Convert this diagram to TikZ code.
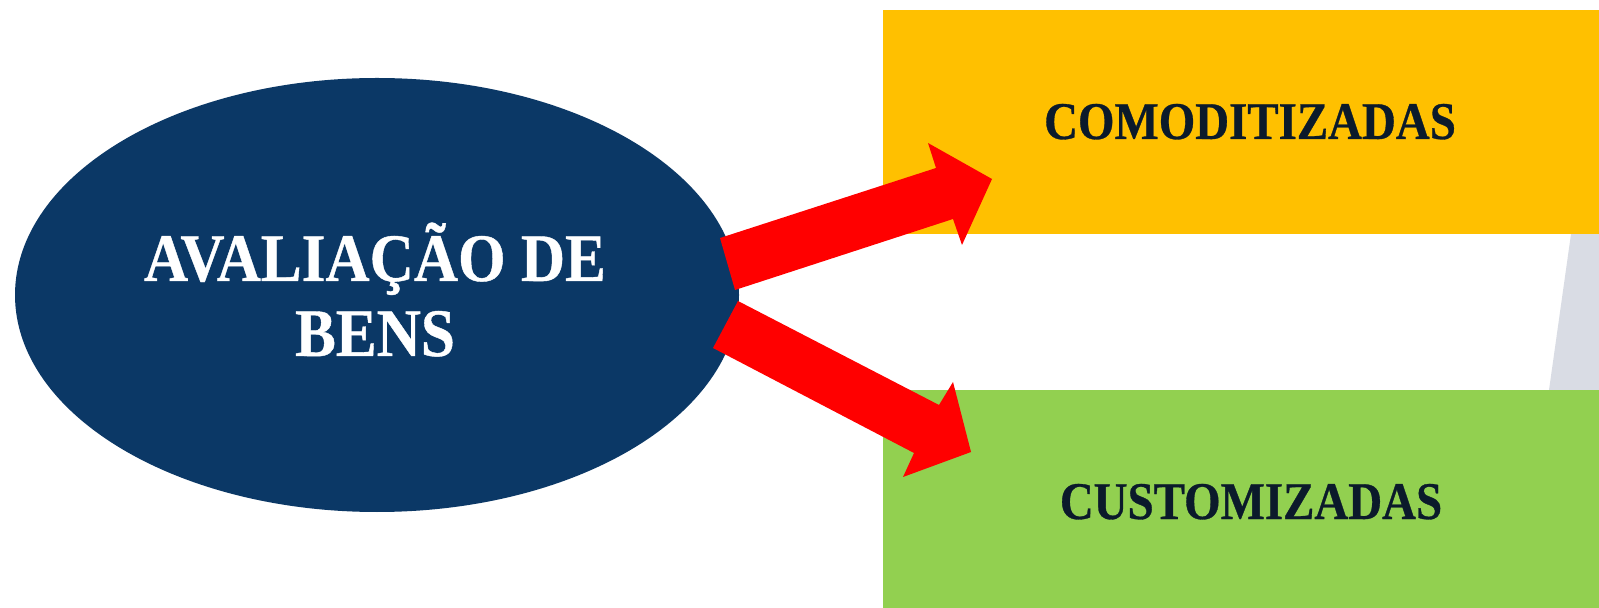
\documentclass[tikz,border=0pt]{standalone}
\usepackage{fontspec}
\newfontfamily\ellfont{Liberation Serif Bold}[FakeStretch=0.9, FakeBold=0.6]
\newfontfamily\boxfont{Liberation Serif Bold}[FakeStretch=0.885, FakeBold=0.6]
\usetikzlibrary{shapes.geometric}
\definecolor{navy}{HTML}{0B3866}
\definecolor{gold}{HTML}{FFC000}
\definecolor{leaf}{HTML}{92D050}
\definecolor{ink}{HTML}{0B1A2B}
\definecolor{paleshade}{HTML}{D9DCE4}
\tikzset{
  bigarrow/.style={fill=red, draw=none},
  boxlabel/.style={font=\boxfont\fontsize{26.5pt}{32pt}\selectfont, text=ink, anchor=base, inner sep=0pt},
}
\begin{document}
\begin{tikzpicture}[x=0.5pt,y=-0.5pt]
\useasboundingbox (0,0) rectangle (1599,608);
\fill[white] (0,0) rectangle (1599,608);
% pale shade at right
\fill[paleshade] (1571,234) -- (1599,234) -- (1599,390) -- (1549,390) -- cycle;
% boxes
\fill[gold] (883,10) rectangle (1599,234);
\fill[leaf] (883,390) rectangle (1599,608);
\node[boxlabel] (com) at (1250,139) {COMODITIZADAS};
\node[boxlabel] (cus) at (1251,519) {CUSTOMIZADAS};
% ellipse
\node[ellipse, fill=navy, inner sep=0pt, minimum width=362pt, minimum height=217pt] (bens) at (377,295) {};
\node[align=center, text=white, inner sep=0pt, anchor=base,
  font=\ellfont\fontsize{34pt}{37.5pt}\selectfont] (benstext) at (375,356) {AVALIAÇÃO DE\\BENS};
% arrows
\fill[bigarrow] (720,238) -- (936,168) -- (928,143) -- (992,179) -- (962,245) -- (953,219) -- (735,290) -- cycle;
\fill[bigarrow] (738,301) -- (939,405) -- (953,382) -- (971,452) -- (903,477) -- (914,453) -- (713,348) -- cycle;
\end{tikzpicture}
\end{document}
